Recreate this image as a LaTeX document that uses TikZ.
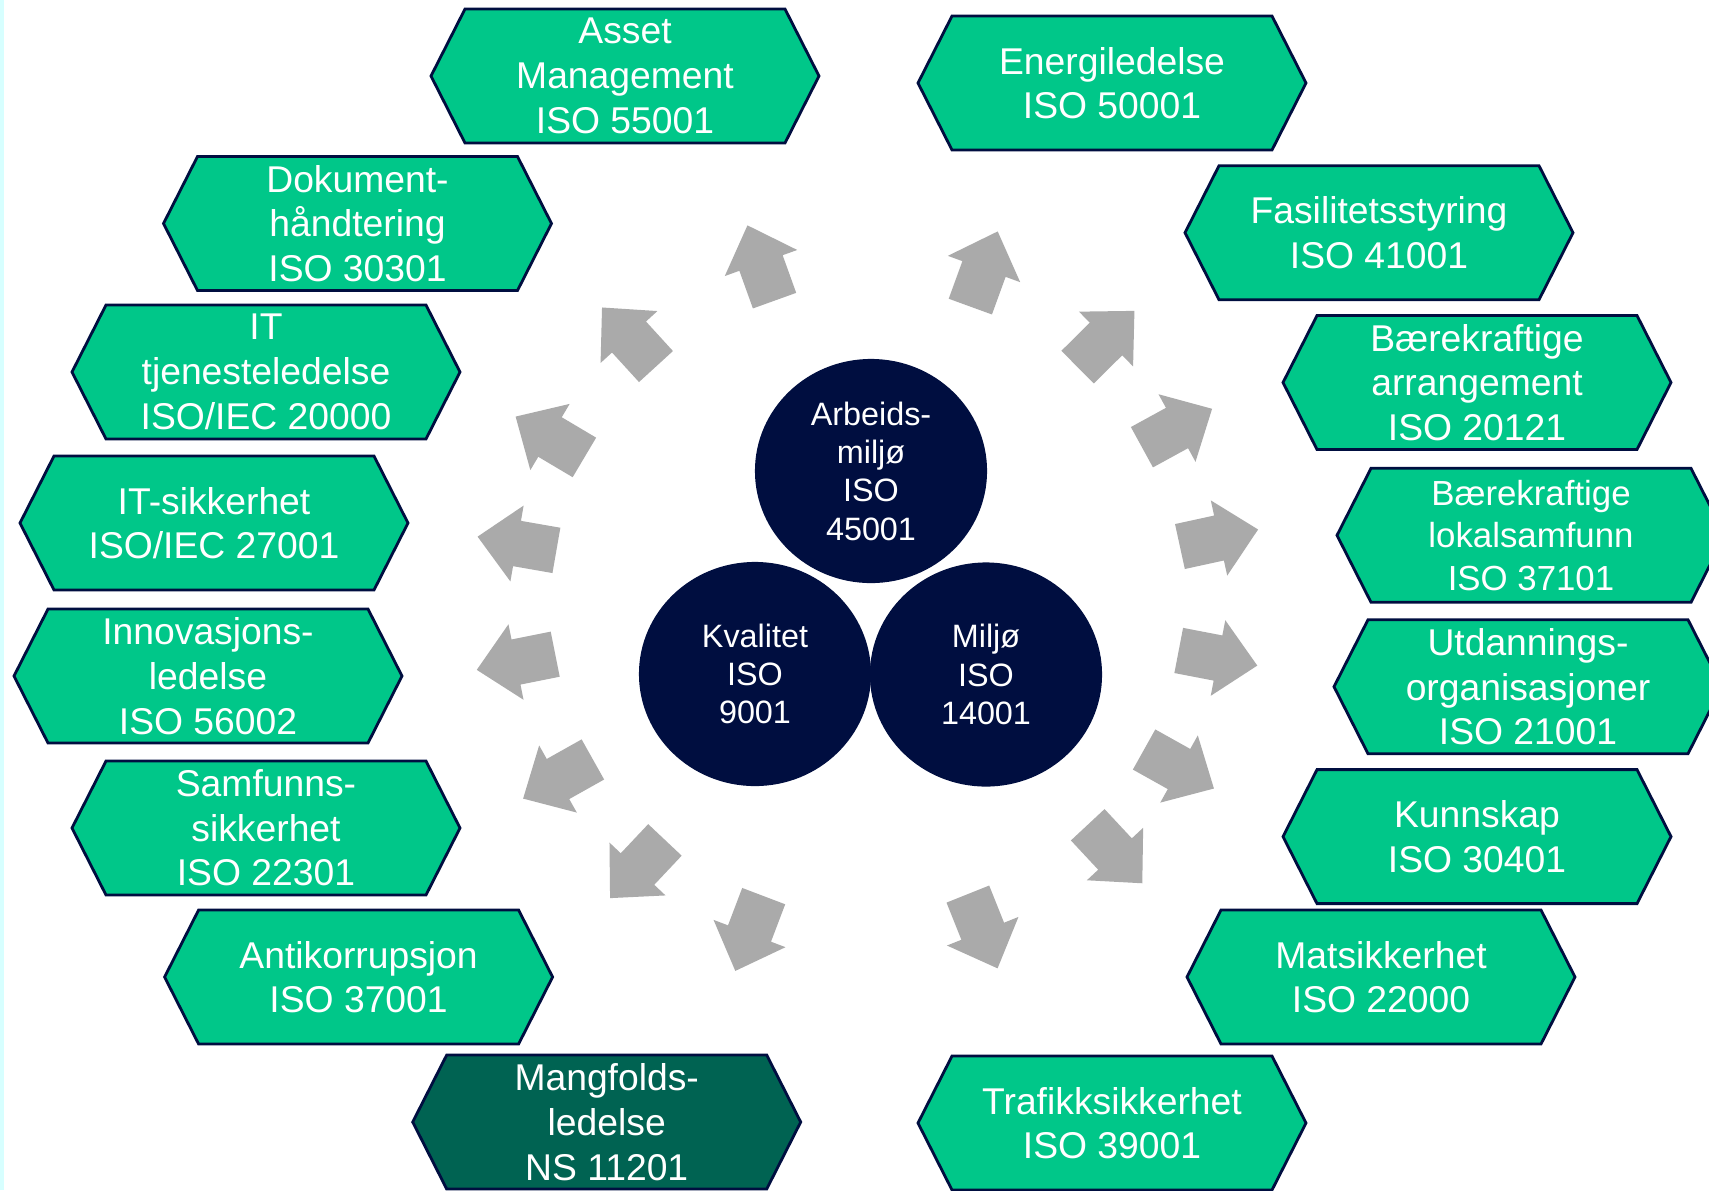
\documentclass[tikz,border=0pt]{standalone}
\usepackage{fontspec}
\setmainfont{Liberation Sans}
\usetikzlibrary{shapes.geometric}

\definecolor{isogreen}{RGB}{0,199,137}
\definecolor{isodark}{RGB}{0,99,82}
\definecolor{isonavy}{RGB}{0,14,64}
\definecolor{ringgrey}{RGB}{170,170,170}
\definecolor{edgecyan}{RGB}{215,255,255}

\tikzset{
  hexbox/.style   = {fill = isogreen, draw = isonavy, line width = 0.8pt},
  hexdark/.style  = {fill = isodark, draw = isonavy, line width = 0.8pt},
  isotext/.style  = {text = white, align = center, inner sep = 0pt,
                     font = \fontsize{10.6}{12.7}\selectfont},
  smalltext/.style = {isotext, font = \fontsize{9.9}{12.1}\selectfont},
  kjerne/.style   = {ellipse, fill = isonavy, text = white, align = center,
                     inner sep = 0pt, minimum width = 2.32cm, minimum height = 2.24cm,
                     font = \fontsize{9.2}{10.9}\selectfont},
  ringarrow/.style = {fill = ringgrey}
}

% sekskant med tekst: stil, navn, x, y, tekst
\newcommand{\hexa}[5][hexbox]{%
  \filldraw[#1] ({#3-194}, #4) -- ({#3-160}, {#4-67}) -- ({#3+160}, {#4-67})
    -- ({#3+194}, #4) -- ({#3+160}, {#4+67}) -- ({#3-160}, {#4+67}) -- cycle;
  \node[isotext] (#2) at (#3, #4) {#5};
}

\begin{document}
\begin{tikzpicture}[x = 0.01cm, y = -0.01cm]
  \useasboundingbox (0, 0) rectangle (1709, 1190);
  \fill[white] (0, 0) rectangle (1709, 1190);
  \fill[edgecyan] (0, 0) rectangle (3.5, 1190);	% kant til venstre

  % sekskanter, venstre side
  \hexa{asset}{625}{76}{Asset\\Management\\ISO 55001}
  \hexa{dokument}{357.5}{223.5}{Dokument-\\håndtering\\ISO 30301}
  \hexa{ittjeneste}{266}{372}{IT\\tjenesteledelse\\ISO/IEC 20000}
  \hexa{itsikkerhet}{214}{523}{IT-sikkerhet\\ISO/IEC 27001}
  \hexa{innovasjon}{208}{676}{Innovasjons-\\ledelse\\ISO 56002}
  \hexa{samfunn}{266}{828}{Samfunns-\\sikkerhet\\ISO 22301}
  \hexa{antikorrupsjon}{358.6}{977}{Antikorrupsjon\\ISO 37001}
  \hexa[hexdark]{mangfold}{606.7}{1122}{Mangfolds-\\ledelse\\NS 11201}

  % sekskanter, høyre side
  \hexa{energi}{1112}{83}{Energiledelse\\ISO 50001}
  \hexa{fasilitet}{1379}{232.7}{Fasilitetsstyring\\ISO 41001}
  \hexa{arrangement}{1477}{382.5}{Bærekraftige\\arrangement\\ISO 20121}
  \hexa{lokalsamfunn}{1531}{535.3}{}
  \node[smalltext] at (lokalsamfunn) {Bærekraftige\\lokalsamfunn\\ISO 37101};
  \hexa{utdanning}{1528}{686.7}{Utdannings-\\organisasjoner\\ISO 21001}
  \hexa{kunnskap}{1477}{836.6}{Kunnskap\\ISO 30401}
  \hexa{matsikkerhet}{1381}{977}{Matsikkerhet\\ISO 22000}
  \hexa{trafikk}{1112}{1123}{Trafikksikkerhet\\ISO 39001}

  % piler i ring
  \foreach \cx/\cy/\ang in {761/263/109.8, 984/269/70, 629/337/132.4, 1106/339/44.7,
      550/437/149.3, 1177/428/28.7, 517/543.5/170.1, 1219/538/12.3,
      516/662/191.3, 1218/658/-10.9, 558/779/209.3, 1179/769/-29.2,
      637.5/869/226.7, 1115/854/-47, 749.5/933.5/249.2, 982.7/931.2/-68.2}
    \fill[ringarrow, shift = {(\cx, \cy)}, rotate = \ang]
      (-40, -23) -- (0, -23) -- (0, -38.5) -- (40, 0) -- (0, 38.5) -- (0, 23) -- (-40, 23) -- cycle;

  % kjernen
  \node[kjerne] (arbeidsmiljo) at (871, 471) {Arbeids-\\miljø\\ISO\\45001};
  \node[kjerne] (kvalitet) at (755, 674) {Kvalitet\\ISO\\9001};
  \node[kjerne] (miljo) at (986, 674.5) {Miljø\\ISO\\14001};
\end{tikzpicture}
\end{document}
